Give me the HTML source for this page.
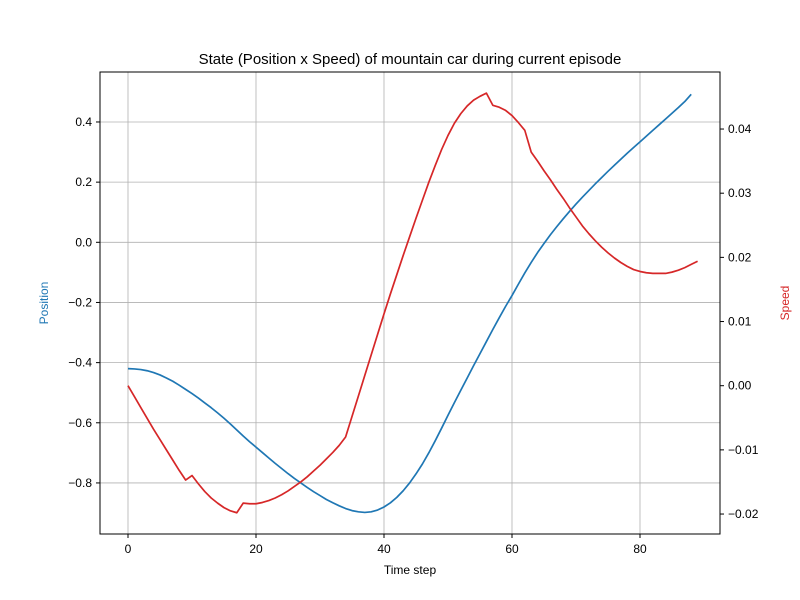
<!DOCTYPE html>
<html><head><meta charset="utf-8"><style>
body{margin:0;background:#fff;}
svg{display:block;font-family:"Liberation Sans","DejaVu Sans",sans-serif;}
</style></head><body>
<svg id="chart" width="800" height="600" xmlns="http://www.w3.org/2000/svg">
<rect width="800" height="600" fill="#fff"/>
<text x="410" y="64" text-anchor="middle" font-size="15">State (Position x Speed) of mountain car during current episode</text>
<text x="410" y="574" text-anchor="middle" font-size="12">Time step</text>
<text transform="translate(48,303) rotate(-90)" text-anchor="middle" font-size="12" fill="#1f77b4">Position</text>
<text transform="translate(789,303) rotate(-90)" text-anchor="middle" font-size="12" fill="#d62728">Speed</text>
<g id="grid"></g><g id="series"></g><g id="ticks"></g>
<rect x="100" y="72" width="620" height="462" fill="none" stroke="#000" stroke-width="1"/>
</svg>
<script>
const xTicks=[0,20,40,60,80];
const posTicks=[-0.8,-0.6,-0.4,-0.2,0.0,0.2,0.4];
const speedTicks=[-0.02,-0.01,0.00,0.01,0.02,0.03,0.04];
const position=[-0.420,-0.421,-0.423,-0.427,-0.433,-0.441,-0.451,-0.462,-0.475,-0.489,-0.503,-0.518,-0.534,-0.550,-0.567,-0.585,-0.604,-0.624,-0.644,-0.663,-0.681,-0.699,-0.717,-0.735,-0.752,-0.769,-0.785,-0.800,-0.815,-0.829,-0.842,-0.855,-0.866,-0.876,-0.885,-0.892,-0.896,-0.898,-0.896,-0.890,-0.880,-0.866,-0.848,-0.826,-0.800,-0.770,-0.737,-0.700,-0.660,-0.618,-0.575,-0.533,-0.492,-0.451,-0.410,-0.370,-0.330,-0.290,-0.251,-0.213,-0.177,-0.139,-0.102,-0.067,-0.034,-0.004,0.025,0.052,0.078,0.103,0.127,0.150,0.172,0.194,0.215,0.236,0.256,0.276,0.296,0.315,0.334,0.353,0.372,0.391,0.410,0.429,0.448,0.468,0.492];
const speed=[0.0000,-0.0017,-0.0034,-0.0051,-0.0068,-0.0084,-0.0100,-0.0116,-0.0132,-0.0147,-0.0140,-0.0153,-0.0165,-0.0175,-0.0183,-0.0190,-0.0195,-0.0198,-0.0183,-0.0184,-0.0184,-0.0182,-0.0179,-0.0175,-0.0170,-0.0164,-0.0157,-0.0150,-0.0142,-0.0133,-0.0124,-0.0114,-0.0104,-0.0093,-0.0080,-0.0048,-0.0016,0.0016,0.0048,0.0080,0.0112,0.0143,0.0173,0.0203,0.0232,0.0261,0.0289,0.0317,0.0343,0.0368,0.0390,0.0409,0.0424,0.0436,0.0445,0.0451,0.0456,0.0437,0.0434,0.0429,0.0421,0.0410,0.0398,0.0364,0.0350,0.0335,0.0321,0.0306,0.0292,0.0277,0.0263,0.0249,0.0237,0.0226,0.0216,0.0207,0.0199,0.0192,0.0186,0.0181,0.0178,0.0176,0.0175,0.0175,0.0175,0.0177,0.0180,0.0184,0.0189,0.0194];
const NS="http://www.w3.org/2000/svg";
const X=t=>128+t*6.4;
const YL=v=>242.3-v*300.8;
const YR=v=>385.7-v*6416.7;
function mk(tag,attrs,parent){const e=document.createElementNS(NS,tag);for(const k in attrs)e.setAttribute(k,attrs[k]);document.getElementById(parent).appendChild(e);return e;}
xTicks.forEach(t=>{
 const g=mk('line',{x1:X(t),x2:X(t),y1:72,y2:534,stroke:'#b0b0b0','stroke-width':0.8},'grid');
 
 
 const tk=mk('line',{x1:X(t),x2:X(t),y1:534,y2:538,stroke:'#000'},'ticks');
 
 
 const tx=mk('text',{x:X(t),y:553,'text-anchor':'middle','font-size':12},'ticks');tx.textContent=t;
 
 
});
posTicks.forEach(v=>{
 const g=mk('line',{x1:100,x2:720,y1:YL(v),y2:YL(v),stroke:'#b0b0b0','stroke-width':0.8},'grid');
 
 
 const tk=mk('line',{x1:96,x2:100,y1:YL(v),y2:YL(v),stroke:'#000'},'ticks');
 
 
 const tx=mk('text',{x:92,y:YL(v)+4,'text-anchor':'end','font-size':12},'ticks');tx.textContent=v.toFixed(1).replace('-','−');
 
 
});
speedTicks.forEach(v=>{
 const tk=mk('line',{x1:720,x2:724,y1:YR(v),y2:YR(v),stroke:'#000'},'ticks');
 
 
 const tx=mk('text',{x:728,y:YR(v)+4,'font-size':12},'ticks');tx.textContent=v.toFixed(2).replace('-','−');
 
 
});
const p1=mk('polyline',{points:position.map((v,i)=>X(i)+','+YL(v)).join(' '),fill:'none',stroke:'#1f77b4','stroke-width':1.7,'stroke-linejoin':'round'},'series');


const p2=mk('polyline',{points:speed.map((v,i)=>X(i)+','+YR(v)).join(' '),fill:'none',stroke:'#d62728','stroke-width':1.7,'stroke-linejoin':'round'},'series');


</script>
</body></html>
